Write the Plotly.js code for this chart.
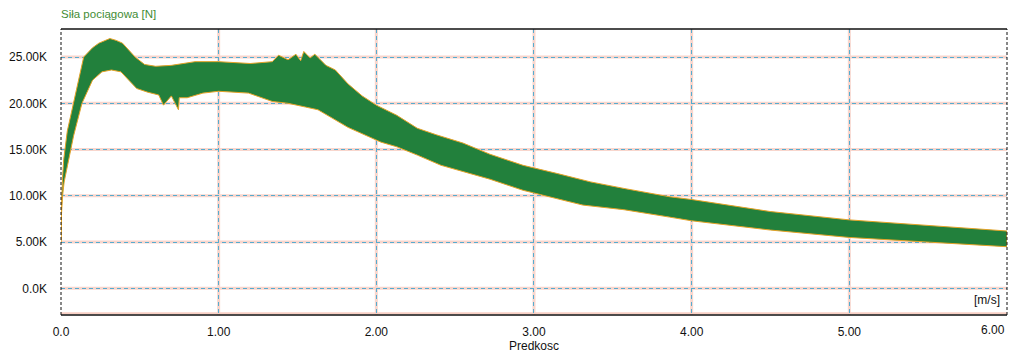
<!DOCTYPE html>
<html>
<head>
<meta charset="utf-8">
<script src="https://cdn.plot.ly/plotly-3.0.1.min.js"></script>
<style>html,body{margin:0;padding:0;background:#fff;}#chart{width:1018px;height:358px;}</style>
</head>
<body>
<div id="chart"></div>
<script>
// Upper envelope of the noisy tractive-force band (speed m/s, force N)
const speedUpper = [0, 0.003, 0.01, 0.017, 0.04, 0.08, 0.11, 0.144, 0.2, 0.24, 0.31, 0.35, 0.39, 0.43, 0.47, 0.53, 0.6, 0.7, 0.85, 1.0, 1.2, 1.34, 1.38, 1.44, 1.49, 1.52, 1.54, 1.58, 1.61, 1.64, 1.68, 1.74, 1.82, 1.91, 2.0, 2.13, 2.26, 2.38, 2.55, 2.72, 2.93, 3.15, 3.36, 3.57, 3.86, 4.0, 4.5, 5.0, 5.5, 6.0];
const forceUpper = [5000, 9000, 12000, 13900, 17000, 20000, 22500, 25000, 26000, 26500, 27000, 26800, 26500, 25800, 25000, 24200, 24000, 24100, 24500, 24500, 24300, 24500, 25200, 24700, 25300, 24600, 25600, 24900, 25300, 24800, 24100, 23600, 22100, 20800, 19800, 18700, 17300, 16600, 15700, 14500, 13300, 12400, 11500, 10800, 9900, 9600, 8300, 7400, 6800, 6200];
// Lower envelope
const speedLower = [0, 0.003, 0.01, 0.02, 0.048, 0.08, 0.133, 0.2, 0.26, 0.32, 0.38, 0.43, 0.48, 0.55, 0.62, 0.65, 0.7, 0.745, 0.75, 0.8, 0.9, 1.0, 1.19, 1.34, 1.44, 1.55, 1.63, 1.72, 1.82, 1.92, 2.03, 2.13, 2.26, 2.41, 2.55, 2.72, 2.93, 3.15, 3.31, 3.57, 3.86, 4.0, 4.5, 5.0, 5.5, 6.0];
const forceLower = [5000, 8000, 10000, 11500, 13900, 16500, 20000, 22500, 23400, 23600, 23400, 22500, 21600, 21200, 20900, 19800, 20800, 19300, 20600, 20600, 21100, 21300, 21100, 20200, 20000, 19600, 19300, 18400, 17400, 16600, 15800, 15300, 14400, 13300, 12600, 11800, 10600, 9700, 9000, 8500, 7700, 7300, 6300, 5500, 5000, 4500];

const xTickVals = [0, 1, 2, 3, 4, 5, 6];
const xTickText = ['0.0', '1.00', '2.00', '3.00', '4.00', '5.00', '6.00'];
const yTickVals = [0, 5000, 10000, 15000, 20000, 25000];
const yTickText = ['0.0K', '5.00K', '10.00K', '15.00K', '20.00K', '25.00K'];

const polyX = speedUpper.concat(speedLower.slice().reverse());
const polyY = forceUpper.concat(forceLower.slice().reverse());

const trace = {
  x: polyX, y: polyY, type: 'scatter', mode: 'lines',
  fill: 'toself', fillcolor: '#22803c',
  line: {color: '#e3a227', width: 1},
  hoverinfo: 'skip'
};

const shapes = [];
// pink underlay for the gridlines
xTickVals.slice(1, -1).forEach(v => shapes.push({type: 'line', xref: 'x', yref: 'paper', x0: v, x1: v, y0: 0, y1: 1, layer: 'below', line: {color: '#f8d6cd', width: 3}}));
yTickVals.forEach(v => shapes.push({type: 'line', xref: 'paper', yref: 'y', x0: 0, x1: 1, y0: v, y1: v, layer: 'below', line: {color: '#f8d6cd', width: 3}}));
// pink halo just above bottom line
shapes.push({type: 'line', xref: 'paper', yref: 'paper', x0: 0, x1: 1, y0: 0.006, y1: 0.006, layer: 'below', line: {color: '#f8cfc4', width: 2}});
// frame
shapes.push({type: 'line', xref: 'paper', yref: 'paper', x0: 0, x1: 1, y0: 1, y1: 1, layer: 'above', line: {color: '#111', width: 1.5}});
shapes.push({type: 'line', xref: 'paper', yref: 'paper', x0: 0, x1: 1, y0: 0, y1: 0, layer: 'above', line: {color: '#111', width: 1.5}});
shapes.push({type: 'line', xref: 'paper', yref: 'paper', x0: 0, x1: 0, y0: 0, y1: 1, layer: 'above', line: {color: '#111', width: 1, dash: '3px,2px'}});
shapes.push({type: 'line', xref: 'paper', yref: 'paper', x0: 1, x1: 1, y0: 0, y1: 1, layer: 'above', line: {color: '#111', width: 1, dash: '3px,2px'}});

const font = {family: '"Liberation Sans", Arial, sans-serif', size: 12, color: '#111'};

const lastIdx = xTickVals.length - 1;
const layout = {
  width: 1018, height: 358,
  margin: {l: 61, r: 11, t: 29, b: 43},
  paper_bgcolor: '#fff', plot_bgcolor: '#fff',
  showlegend: false,
  font: font,
  title: {
    text: 'Siła pociągowa [N]',
    font: {family: '"Liberation Sans", Arial, sans-serif', size: 11.5, color: '#3f8c35'},
    x: 0, xref: 'paper', xanchor: 'left',
    y: 1 - 14 / 358, yref: 'container', yanchor: 'middle'
  },
  xaxis: {
    range: [0, 6.0001], tickvals: xTickVals,
    ticktext: xTickText.map((t, i) => i === lastIdx ? '' : t),
    showgrid: true, gridcolor: '#56acd0', gridwidth: 1, griddash: '4px,3px',
    zeroline: false, showline: false, ticks: '', ticklabelstandoff: 8,
    title: {text: 'Predkosc', font: font, standoff: 2},
    fixedrange: true
  },
  yaxis: {
    range: [-2880, 28030], tickvals: yTickVals, ticktext: yTickText,
    showgrid: true, gridcolor: '#56acd0', gridwidth: 1, griddash: '4px,3px',
    zeroline: false, showline: false, ticks: '', ticklabelstandoff: 13,
    fixedrange: true
  },
  shapes: shapes,
  annotations: [
    {text: '[m/s]', xref: 'paper', yref: 'paper', x: 0.995, y: 0.02,
     xanchor: 'right', yanchor: 'bottom', showarrow: false, font: font},
    {text: xTickText[lastIdx], xref: 'x', yref: 'paper', x: xTickVals[lastIdx], y: -15 / 286,
     xanchor: 'right', yanchor: 'middle', showarrow: false, font: font}
  ]
};

Plotly.newPlot('chart', [trace], layout, {staticPlot: true, displayModeBar: false});
</script>
</body>
</html>
